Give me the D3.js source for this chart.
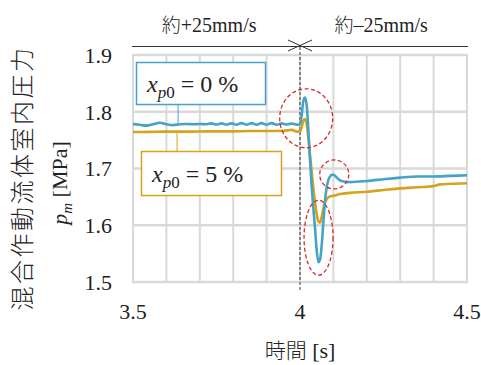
<!DOCTYPE html>
<html>
<head>
<meta charset="utf-8">
<script src="https://cdn.jsdelivr.net/npm/d3@7"></script>
<style>
  body { margin: 0; background: #fff; }
  svg { display: block; }
</style>
</head>
<body>
<script>
// time [s] and chamber pressure [MPa]
let timeBlue = [3.50, 3.52, 3.54, 3.56, 3.58, 3.60, 3.62, 3.64, 3.66, 3.68, 3.70, 3.72,
  3.735, 3.75, 3.765, 3.78, 3.795, 3.81, 3.825, 3.84, 3.855, 3.87, 3.885, 3.90, 3.915,
  3.93, 3.945, 3.96, 3.975, 3.99, 3.995, 4.000, 4.005, 4.010, 4.015, 4.020, 4.025, 4.030,
  4.035, 4.040, 4.045, 4.050, 4.055, 4.060, 4.065, 4.070, 4.075, 4.080, 4.085, 4.090,
  4.095, 4.100, 4.110, 4.120, 4.130, 4.150, 4.20, 4.25, 4.30, 4.35, 4.40, 4.45, 4.50];
let pressureBlue = [1.7785, 1.777, 1.7755, 1.778, 1.7805, 1.778, 1.7765, 1.778, 1.7785, 1.778, 1.7785, 1.778,
  1.7795, 1.7775, 1.7795, 1.7775, 1.7795, 1.777, 1.780, 1.777, 1.780, 1.777, 1.780, 1.777, 1.780,
  1.777, 1.7795, 1.7775, 1.779, 1.7775, 1.777, 1.778, 1.794, 1.819, 1.825, 1.812, 1.768, 1.715,
  1.668, 1.630, 1.595, 1.556, 1.535, 1.539, 1.565, 1.606, 1.644, 1.667, 1.680, 1.686,
  1.689, 1.689, 1.684, 1.679, 1.677, 1.676, 1.678, 1.681, 1.684, 1.686, 1.686, 1.687, 1.688];

let timeOrange = [3.50, 3.55, 3.60, 3.65, 3.70, 3.75, 3.80, 3.85, 3.90, 3.95, 3.976, 3.99,
  4.000, 4.005, 4.010, 4.015, 4.020, 4.025, 4.030, 4.035, 4.040, 4.045, 4.050, 4.055,
  4.060, 4.065, 4.070, 4.075, 4.080, 4.090, 4.10, 4.12, 4.15, 4.20, 4.25, 4.30, 4.35,
  4.40, 4.42, 4.45, 4.50];
let pressureOrange = [1.7643, 1.7645, 1.765, 1.765, 1.7652, 1.7655, 1.7655, 1.766, 1.766, 1.7665, 1.768, 1.765,
  1.765, 1.773, 1.784, 1.787, 1.778, 1.754, 1.724, 1.694, 1.666, 1.641, 1.620, 1.607,
  1.6045, 1.615, 1.630, 1.641, 1.646, 1.651, 1.652, 1.655, 1.657, 1.659, 1.662, 1.665, 1.667,
  1.669, 1.672, 1.673, 1.674];

let xTicks = [3.5, 4, 4.5];
let yTicks = [1.5, 1.6, 1.7, 1.8, 1.9];
let xGrid = d3.range(0, 11).map(i => 3.5 + i * 0.1);
let speedLabels = ["+25mm/s", "\u201325mm/s"];
let speedCenters = [3.728, 4.243];

let blue = "#45a3c6";
let orange = "#d5a31c";
let serif = "\"Liberation Serif\", serif";
let cjk = "\"Noto Sans CJK JP\", sans-serif";

let svg = d3.select("body").append("svg")
  .attr("width", 481)
  .attr("height", 365)
  .style("font-family", serif);

let x = d3.scaleLinear().domain([3.5, 4.5]).range([133, 467]);
let y = d3.scaleLinear().domain([1.5, 1.9]).range([282, 55]);

// grid
svg.append("g").selectAll("line.v")
  .data(xGrid)
  .enter().append("line")
  .attr("x1", d => x(d)).attr("x2", d => x(d))
  .attr("y1", y(1.9)).attr("y2", y(1.5))
  .attr("stroke", "#d9d9d9").attr("stroke-width", 2);

svg.append("g").selectAll("line.h")
  .data(yTicks)
  .enter().append("line")
  .attr("x1", x(3.5) - 1).attr("x2", x(4.5) + 1)
  .attr("y1", d => y(d)).attr("y2", d => y(d))
  .attr("stroke", "#d9d9d9").attr("stroke-width", 2.5);

// y tick labels
svg.append("g").selectAll("text")
  .data(yTicks)
  .enter().append("text")
  .attr("x", 112)
  .attr("y", d => y(d))
  .attr("dy", "0.36em")
  .attr("text-anchor", "end")
  .attr("font-size", 22)
  .attr("fill", "#222")
  .text(d => d.toFixed(1));

// x tick labels
svg.append("g").selectAll("text")
  .data(xTicks)
  .enter().append("text")
  .attr("x", d => x(d))
  .attr("y", 319)
  .attr("text-anchor", "middle")
  .attr("font-size", 22)
  .attr("fill", "#222")
  .text(d => d);

// axis titles
let xt = svg.append("text")
  .attr("x", 300).attr("y", 358)
  .attr("text-anchor", "middle")
  .attr("font-size", 22)
  .attr("fill", "#222");
xt.append("tspan").style("font-family", cjk).style("font-weight", 300).attr("font-size", 21).text("時間");
xt.append("tspan").text(" [s]");

svg.append("text")
  .attr("transform", "translate(31,178) rotate(-90)")
  .attr("text-anchor", "middle")
  .attr("font-size", 24)
  .attr("letter-spacing", 2.5)
  .attr("fill", "#222")
  .style("font-family", cjk)
  .style("font-weight", 300)
  .text("混合作動流体室内圧力");

let pm = svg.append("text")
  .attr("transform", "translate(67,183) rotate(-90)")
  .attr("text-anchor", "middle")
  .attr("font-size", 22)
  .attr("fill", "#222");
pm.append("tspan").attr("font-style", "italic").text("p");
pm.append("tspan").attr("font-style", "italic").attr("font-size", 15).attr("dy", 5).text("m");
pm.append("tspan").attr("dy", -5).text(" [MPa]");

// top annotation: speed line
svg.append("line")
  .attr("x1", 132).attr("x2", 468)
  .attr("y1", 46.5).attr("y2", 46.5)
  .attr("stroke", "#333").attr("stroke-width", 1.2);

svg.append("path")
  .attr("d", `M${x(4) - 12},40 L${x(4) + 12},51 M${x(4) - 12},51 L${x(4) + 12},40`)
  .attr("stroke", "#333").attr("stroke-width", 1).attr("fill", "none");

let sp = svg.append("g").selectAll("text")
  .data(speedLabels)
  .enter().append("text")
  .attr("x", (d, i) => x(speedCenters[i]))
  .attr("y", 32)
  .attr("text-anchor", "middle")
  .attr("font-size", 20)
  .attr("fill", "#222");
sp.append("tspan").style("font-family", cjk).style("font-weight", 300).attr("font-size", 19).text("約");
sp.append("tspan").text(d => d);

// dashed line at t = 4
svg.append("line")
  .attr("x1", x(4)).attr("x2", x(4))
  .attr("y1", 47).attr("y2", 291)
  .attr("stroke", "#333").attr("stroke-width", 1)
  .attr("stroke-dasharray", "3,2");

// leader lines
svg.append("line")
  .attr("x1", x(3.635)).attr("x2", x(3.635))
  .attr("y1", 105).attr("y2", y(1.778))
  .attr("stroke", blue).attr("stroke-width", 1);
svg.append("line")
  .attr("x1", x(3.632)).attr("x2", x(3.632))
  .attr("y1", y(1.765)).attr("y2", 151)
  .attr("stroke", orange).attr("stroke-width", 1);

// curves
let line = d3.line()
  .x(d => x(d[0]))
  .y(d => y(d[1]))
  .curve(d3.curveMonotoneX);

svg.append("path")
  .datum(d3.zip(timeOrange, pressureOrange))
  .attr("d", line)
  .attr("fill", "none")
  .attr("stroke", orange)
  .attr("stroke-width", 2.6);

svg.append("path")
  .datum(d3.zip(timeBlue, pressureBlue))
  .attr("d", line)
  .attr("fill", "none")
  .attr("stroke", blue)
  .attr("stroke-width", 2.6);

// red dashed ellipses
let ellipses = [
  { t: 4.0185, p: 1.7885, rx: 26.5, ry: 29.5 },
  { t: 4.1025, p: 1.6895, rx: 14.5, ry: 14.5 },
  { t: 4.0555, p: 1.578, rx: 14.5, ry: 37.5 }
];
svg.append("g").selectAll("ellipse")
  .data(ellipses)
  .enter().append("ellipse")
  .attr("cx", d => x(d.t))
  .attr("cy", d => y(d.p))
  .attr("rx", d => d.rx)
  .attr("ry", d => d.ry)
  .attr("fill", "none")
  .attr("stroke", "#d42a2a")
  .attr("stroke-width", 1.3)
  .attr("stroke-dasharray", "4,2.5");

// legend boxes
function legendBox(x0, y0, w, h, color, value, baseX, baseY) {
  svg.append("rect")
    .attr("x", x0).attr("y", y0)
    .attr("width", w).attr("height", h)
    .attr("fill", "#fff")
    .attr("stroke", color)
    .attr("stroke-width", 1.5);
  let t = svg.append("text")
    .attr("x", baseX).attr("y", baseY)
    .attr("font-size", 24)
    .attr("fill", "#222");
  t.append("tspan").attr("font-style", "italic").text("x");
  t.append("tspan").attr("font-style", "italic").attr("font-size", 17).attr("dy", 6).text("p");
  t.append("tspan").attr("font-size", 17).text("0");
  t.append("tspan").attr("dy", -6).text(" = " + value + " %");
}

legendBox(136.5, 62.5, 129, 42, blue, 0, 147, 92);
legendBox(141.5, 151.5, 140, 44, orange, 5, 152, 182);
</script>
</body>
</html>
